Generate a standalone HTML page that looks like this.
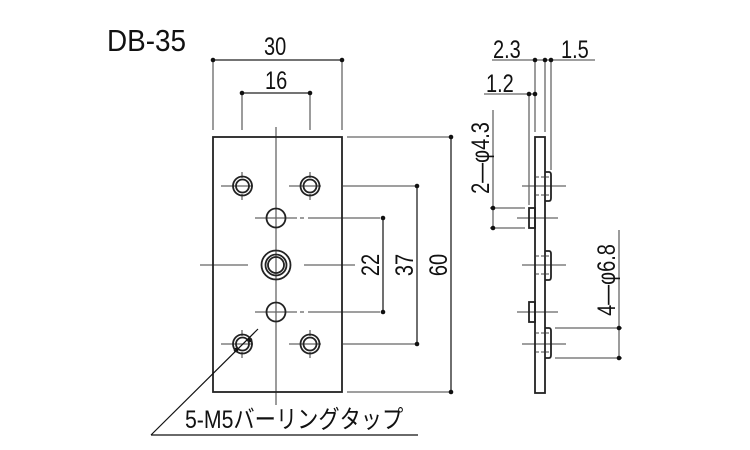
<!DOCTYPE html>
<html><head><meta charset="utf-8"><style>
html,body{margin:0;padding:0;background:#fff;}
svg{display:block}
text{font-family:"Liberation Sans","Noto Sans CJK JP",sans-serif;fill:#111}
</style></head><body>
<svg width="750" height="450" viewBox="0 0 750 450" xmlns="http://www.w3.org/2000/svg">
<g stroke="#666" stroke-width="1.3" fill="none">
<line x1="213" y1="60" x2="213" y2="130"/><line x1="342" y1="60" x2="342" y2="130"/>
<line x1="242" y1="93" x2="242" y2="130"/><line x1="310" y1="93" x2="310" y2="130"/>
<line x1="276" y1="127" x2="276" y2="405"/>
<line x1="200" y1="265" x2="248" y2="265"/><line x1="304" y1="265" x2="355" y2="265"/>
<line x1="221" y1="186" x2="253" y2="186"/><line x1="289" y1="186" x2="321" y2="186"/>
<line x1="221" y1="344" x2="253" y2="344"/><line x1="289" y1="344" x2="321" y2="344"/>
<line x1="242" y1="172" x2="242" y2="178"/><line x1="242" y1="194" x2="242" y2="200"/>
<line x1="310" y1="172" x2="310" y2="178"/><line x1="310" y1="194" x2="310" y2="200"/>
<line x1="242" y1="330" x2="242" y2="336"/><line x1="242" y1="352" x2="242" y2="358"/>
<line x1="310" y1="330" x2="310" y2="336"/><line x1="310" y1="352" x2="310" y2="358"/>
<line x1="255" y1="218" x2="297" y2="218"/><line x1="300" y1="218" x2="304" y2="218"/><line x1="308" y1="218" x2="380" y2="218"/>
<line x1="255" y1="312" x2="297" y2="312"/><line x1="300" y1="312" x2="304" y2="312"/><line x1="308" y1="312" x2="380" y2="312"/>
<line x1="343" y1="186" x2="417" y2="186"/><line x1="343" y1="344" x2="417" y2="344"/>
<line x1="347" y1="137" x2="451" y2="137"/><line x1="347" y1="392" x2="451" y2="392"/>
<line x1="535" y1="60" x2="535" y2="132"/><line x1="545" y1="60" x2="545" y2="132"/><line x1="551" y1="60" x2="551" y2="170"/>
<line x1="529" y1="94" x2="529" y2="205"/>
<line x1="492" y1="60" x2="595" y2="60"/><line x1="484" y1="94" x2="537" y2="94"/>
<line x1="493" y1="110" x2="493" y2="228"/>
<line x1="490" y1="208" x2="525" y2="208"/><line x1="490" y1="228" x2="525" y2="228"/>
<line x1="619" y1="230" x2="619" y2="358"/>
<line x1="555" y1="328" x2="622" y2="328"/><line x1="555" y1="358" x2="622" y2="358"/>
<line x1="522" y1="186" x2="566" y2="186"/><line x1="522" y1="265" x2="566" y2="265"/><line x1="522" y1="344" x2="566" y2="344"/>
<line x1="517" y1="218" x2="558" y2="218"/><line x1="517" y1="312" x2="558" y2="312"/>
</g>
<g stroke="#222" stroke-width="1.3" fill="none">
<line x1="213" y1="60" x2="342" y2="60"/><line x1="242" y1="93" x2="310" y2="93"/>
<line x1="451" y1="137" x2="451" y2="392"/><line x1="417" y1="186" x2="417" y2="344"/><line x1="383" y1="218" x2="383" y2="312"/>
</g>
<g fill="#111">
<circle cx="213" cy="60" r="2.3"/><circle cx="342" cy="60" r="2.3"/><circle cx="242" cy="93" r="2.3"/><circle cx="310" cy="93" r="2.3"/>
<circle cx="451" cy="137" r="2.3"/><circle cx="451" cy="392" r="2.3"/><circle cx="417" cy="186" r="2.3"/><circle cx="417" cy="344" r="2.3"/>
<circle cx="383" cy="218" r="2.3"/><circle cx="383" cy="312" r="2.3"/>
<circle cx="535" cy="60" r="2.3"/><circle cx="545" cy="60" r="2.3"/><circle cx="551" cy="60" r="2.3"/>
<circle cx="529" cy="94" r="2.3"/><circle cx="535" cy="94" r="2.3"/>
<circle cx="493" cy="208" r="2.3"/><circle cx="493" cy="228" r="2.3"/>
<circle cx="619" cy="328" r="2.3"/><circle cx="619" cy="358" r="2.3"/>
<circle cx="250" cy="340" r="2.3"/><circle cx="236" cy="350" r="2.3"/>
</g>
<g stroke="#222" stroke-width="1.8" fill="none">
<rect x="213" y="137" width="129" height="255"/>
<circle cx="242.5" cy="186" r="9.5"/><circle cx="242.5" cy="186" r="6.5"/>
<circle cx="310" cy="186" r="9.5"/><circle cx="310" cy="186" r="6.5"/>
<circle cx="242.5" cy="344" r="9.5"/><circle cx="242.5" cy="344" r="6.5"/>
<circle cx="310" cy="344" r="9.5"/><circle cx="310" cy="344" r="6.5"/>
<circle cx="276" cy="218" r="9.5"/><circle cx="276" cy="312" r="9.5"/>
<circle cx="276" cy="265" r="14.5"/><circle cx="276" cy="265" r="10.5"/><circle cx="276" cy="265" r="8"/>
<rect x="535" y="137" width="10" height="256"/>
<path d="M545 172 H549 Q551 172 551 175 V198 Q551 201 549 201 H545"/>
<path d="M545 251 H549 Q551 251 551 254 V277 Q551 280 549 280 H545"/>
<path d="M545 328 H549 Q551 328 551 331 V355 Q551 358 549 358 H545"/>
<rect x="529" y="208" width="6" height="20"/><rect x="529" y="302" width="6" height="20"/>
</g>
<g stroke="#444" stroke-width="1" stroke-dasharray="3,2">
<line x1="536" y1="177" x2="550" y2="177"/><line x1="536" y1="195" x2="550" y2="195"/>
<line x1="536" y1="256" x2="550" y2="256"/><line x1="536" y1="274" x2="550" y2="274"/>
<line x1="536" y1="333" x2="550" y2="333"/><line x1="536" y1="352" x2="550" y2="352"/>
</g>
<g stroke="#111" stroke-width="1.2">
<line x1="151" y1="435" x2="258" y2="329"/><line x1="151" y1="435" x2="418" y2="435"/>
</g>
<g font-size="25">
<text transform="translate(107,51) scale(0.9,1)" font-size="31">DB-35</text>
<text transform="translate(264,55) scale(0.8,1)">30</text>
<text transform="translate(265,89) scale(0.8,1)">16</text>
<text transform="translate(379,265) rotate(-90) scale(0.8,1)" text-anchor="middle">22</text>
<text transform="translate(413,265) rotate(-90) scale(0.8,1)" text-anchor="middle">37</text>
<text transform="translate(447,265) rotate(-90) scale(0.8,1)" text-anchor="middle">60</text>
<text transform="translate(493,58) scale(0.8,1)">2.3</text>
<text transform="translate(561,58) scale(0.8,1)">1.5</text>
<text transform="translate(486,92) scale(0.8,1)">1.2</text>
<text transform="translate(489,158) rotate(-90) scale(0.8,1)" text-anchor="middle">2—φ4.3</text>
<text transform="translate(615,280) rotate(-90) scale(0.8,1)" text-anchor="middle">4—φ6.8</text>
<text transform="translate(185,428) scale(0.85,1)">5-M5バーリングタップ</text>
</g>
</svg>
</body></html>
